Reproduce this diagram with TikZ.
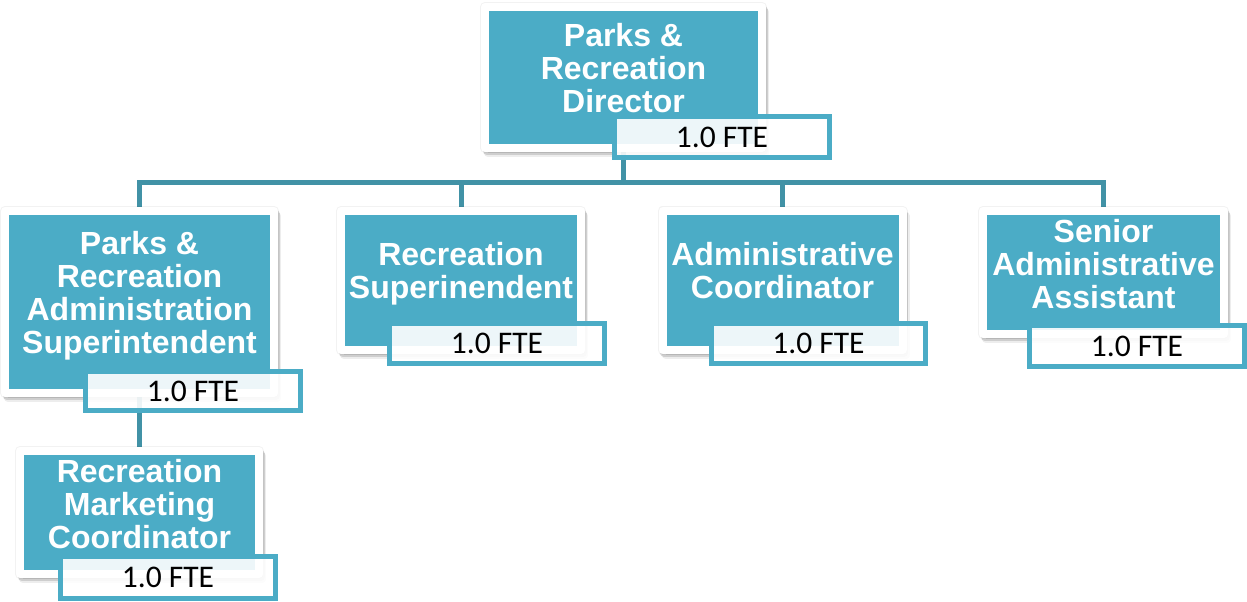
\documentclass[tikz,border=0pt]{standalone}
\usepackage{fontspec}
\setmainfont{Liberation Sans}
\newfontfamily\ftefont{Carlito}
\usetikzlibrary{shadows,backgrounds}
\definecolor{tealfill}{HTML}{4BACC6}
\definecolor{tealline}{HTML}{4192A6}
\definecolor{tealborder}{HTML}{4BACC6}
\begin{document}
\begin{tikzpicture}[x=1pt,y=-1pt,
  rolebox/.style={rectangle, fill=tealfill, draw=white, line width=8pt, line join=round, inner sep=0pt,
    general shadow={draw=black, fill=black, opacity=0.05, line width=10pt, line join=round, shadow xshift=0pt, shadow yshift=0pt},
    general shadow={draw=black, fill=black, opacity=0.07, line width=8pt, line join=round, shadow xshift=3pt, shadow yshift=-5pt},
    general shadow={draw=black, fill=black, opacity=0.13, line width=8pt, line join=round, shadow xshift=1.5pt, shadow yshift=-3pt}},
  roletext/.style={text=white, font=\bfseries\fontsize{32}{33}\selectfont, align=center, inner sep=0pt},
  ftebox/.style={rectangle, draw=tealborder, line width=5pt, fill=white, fill opacity=0.9, text opacity=1, inner sep=0pt, font=\ftefont\fontsize{31.5}{36}\selectfont, text=black},
  conn/.style={draw=tealline, line width=5pt}]
\useasboundingbox (0,0) rectangle (1247,602);

% role boxes
\node[rolebox, minimum width=277pt, minimum height=141pt] (dir) at (623.5,77.5) {};
\node[rolebox, minimum width=269pt, minimum height=182pt] (b1) at (139.5,302) {};
\node[rolebox, minimum width=240pt, minimum height=139pt] (b2) at (461,280.5) {};
\node[rolebox, minimum width=240pt, minimum height=139pt] (b3) at (782.5,280.5) {};
\node[rolebox, minimum width=241pt, minimum height=123pt] (b4) at (1103.5,272.5) {};
\node[rolebox, minimum width=239pt, minimum height=123pt] (b5) at (139.5,512.5) {};

% role texts
\node[roletext] (dirt) at (623.5,68) {Parks \&\\Recreation\\Director};
\node[roletext] (b1t) at (139.5,296) {Parks \&\\Recreation\\Administration\\Superintendent};
\node[roletext] (b2t) at (461,274) {Recreation\\Superinendent};
\node[roletext] (b3t) at (782.5,271) {Administrative\\Coordinator};
\node[roletext] (b4t) at (1103.5,264) {Senior\\Administrative\\Assistant};
\node[roletext] (b5t) at (139.5,504.5) {Recreation\\Marketing\\Coordinator};

% FTE boxes
\node[ftebox, minimum width=215pt, minimum height=41pt] (f0) at (722,137) {1.0 FTE};
\node[ftebox, minimum width=215pt, minimum height=39pt] (f1) at (193,391) {1.0 FTE};
\node[ftebox, minimum width=215pt, minimum height=40pt] (f2) at (497,343.5) {1.0 FTE};
\node[ftebox, minimum width=214pt, minimum height=40pt] (f3) at (818.5,343.5) {1.0 FTE};
\node[ftebox, minimum width=215pt, minimum height=41pt] (f4) at (1137,346) {1.0 FTE};
\node[ftebox, minimum width=215pt, minimum height=42pt] (f5) at (168,577.5) {1.0 FTE};

% connectors
\begin{pgfonlayer}{background}
\coordinate (bus) at (623.5,182);
\draw[conn] (dir.south) -- (bus);
\draw[conn] (bus) -| (b1.north);
\draw[conn] (bus) -| (b2.north);
\draw[conn] (bus) -| (b3.north);
\draw[conn] (bus) -| (b4.north);
\draw[conn] (b1.south) -- (b5.north);
\end{pgfonlayer}
\end{tikzpicture}
\end{document}
